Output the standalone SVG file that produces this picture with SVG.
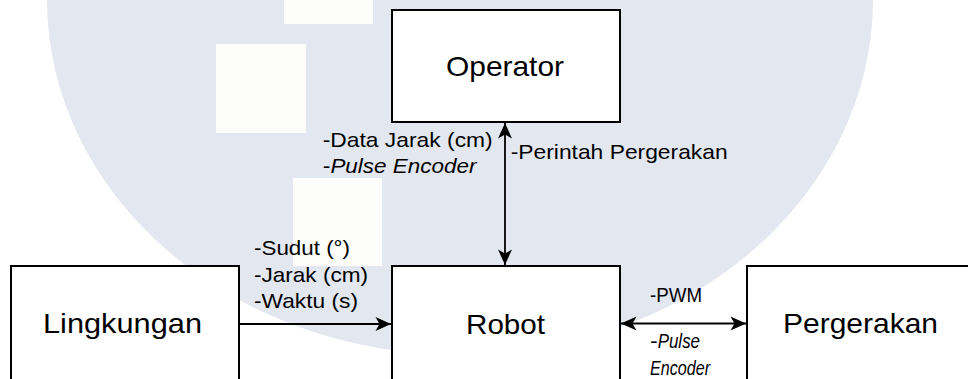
<svg xmlns="http://www.w3.org/2000/svg" width="968" height="379" viewBox="0 0 968 379">
  <defs>
    <marker id="arrow" markerUnits="userSpaceOnUse" markerWidth="18" markerHeight="18" viewBox="0 0 18 18" refX="16.5" refY="9" orient="auto-start-reverse">
      <path d="M1,2 L16.5,9 L1,16 L5,9 Z" fill="#000"/>
    </marker>
    <style>
      .box { fill: #fff; stroke: #000; stroke-width: 2; }
      .edge { fill: none; stroke: #000; stroke-width: 1.8; }
      .title { font-family: "Liberation Sans", Arial, sans-serif; font-size: 28px; fill: #000; }
      .lbl { font-family: "Liberation Sans", Arial, sans-serif; font-size: 21px; fill: #000; }
      .it { font-style: italic; }
      .wm { fill: #e3e8f0; }
      .wm-sq { fill: #fdfdfc; }
    </style>
  </defs>

  <!-- backdrop emblem -->
  <g id="background">
    <rect width="968" height="379" fill="#fff"/>
    <ellipse class="wm" cx="460" cy="0" rx="413" ry="355"/>
    <rect class="wm-sq" x="284" y="0" width="89" height="24"/>
    <rect class="wm-sq" x="216" y="44" width="90" height="89"/>
    <rect class="wm-sq" x="293" y="178" width="89" height="88"/>
  </g>

  <!-- connectors -->
  <g id="connectors">
    <line class="edge" x1="505" y1="123" x2="505" y2="265" marker-start="url(#arrow)" marker-end="url(#arrow)"/>
    <line class="edge" x1="240" y1="324" x2="391" y2="324" marker-end="url(#arrow)"/>
    <line class="edge" x1="621" y1="323.5" x2="746" y2="323.5" marker-start="url(#arrow)" marker-end="url(#arrow)"/>
  </g>

  <!-- connector labels -->
  <g id="labels">
    <text class="lbl" x="322.7" y="146.7" textLength="170" lengthAdjust="spacingAndGlyphs">-Data Jarak (cm)</text>
    <text class="lbl" x="322.7" y="172.7" textLength="7.7" lengthAdjust="spacingAndGlyphs">-</text>
    <text class="lbl it" x="330.4" y="172.7" textLength="146" lengthAdjust="spacingAndGlyphs">Pulse Encoder</text>
    <text class="lbl" x="510.7" y="159.3" textLength="217" lengthAdjust="spacingAndGlyphs">-Perintah Pergerakan</text>

    <text class="lbl" x="254" y="255" textLength="96" lengthAdjust="spacingAndGlyphs">-Sudut (°)</text>
    <text class="lbl" x="254" y="281.7" textLength="114" lengthAdjust="spacingAndGlyphs">-Jarak (cm)</text>
    <text class="lbl" x="254" y="308.3" textLength="104" lengthAdjust="spacingAndGlyphs">-Waktu (s)</text>

    <text class="lbl" x="650" y="301.7" textLength="52" lengthAdjust="spacingAndGlyphs">-PWM</text>
    <text class="lbl" x="650" y="348" textLength="7.7" lengthAdjust="spacingAndGlyphs">-</text>
    <text class="lbl it" x="657.7" y="348" textLength="42.3" lengthAdjust="spacingAndGlyphs">Pulse</text>
    <text class="lbl it" x="650" y="375" textLength="60" lengthAdjust="spacingAndGlyphs">Encoder</text>
  </g>

  <!-- nodes -->
  <g id="node-operator">
    <rect class="box" x="392" y="10" width="228" height="112"/>
    <text class="title" x="446" y="76" textLength="118" lengthAdjust="spacingAndGlyphs">Operator</text>
  </g>
  <g id="node-robot">
    <rect class="box" x="392" y="266" width="228" height="114"/>
    <text class="title" x="466" y="334" textLength="79" lengthAdjust="spacingAndGlyphs">Robot</text>
  </g>
  <g id="node-lingkungan">
    <rect class="box" x="11" y="266" width="228" height="114"/>
    <text class="title" x="43" y="333" textLength="159" lengthAdjust="spacingAndGlyphs">Lingkungan</text>
  </g>
  <g id="node-pergerakan">
    <rect class="box" x="747" y="266" width="228" height="114"/>
    <text class="title" x="783" y="333.3" textLength="155" lengthAdjust="spacingAndGlyphs">Pergerakan</text>
  </g>
</svg>
